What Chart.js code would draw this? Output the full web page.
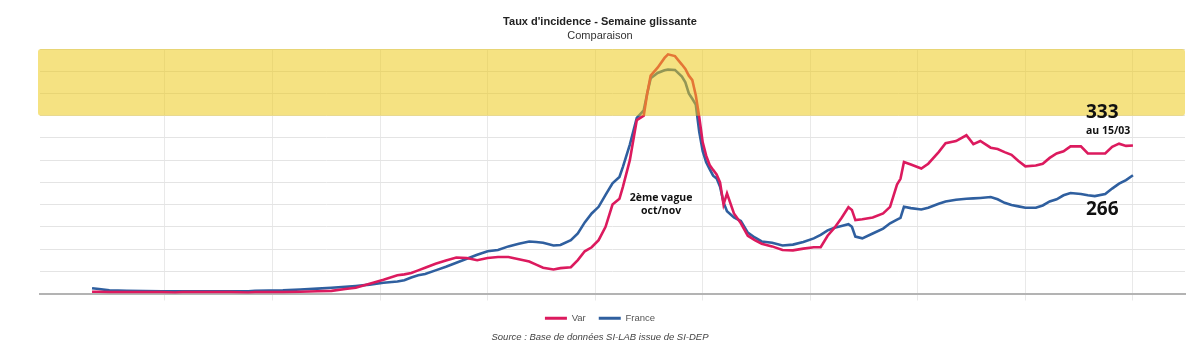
<!DOCTYPE html>
<html lang="fr">
<head>
<meta charset="utf-8">
<title>Taux d'incidence - Semaine glissante</title>
<script src="https://cdn.jsdelivr.net/npm/chart.js@4/dist/chart.umd.min.js"></script>
<style>
  html, body { margin: 0; padding: 0; background: #ffffff; }
  #zone { width: 1200px; height: 343px; }
</style>
</head>
<body>
<div id="zone"><canvas id="graphique" width="1200" height="343"></canvas></div>
<script>
// Jours écoulés depuis le premier point de la série (le dernier point est le 15/03)
const jours = [
  0, 2, 5, 10, 20, 24, 26, 40, 45, 47,
  55, 60, 65, 69, 73, 76, 80, 84, 88, 90,
  92, 94, 96, 99, 102, 105, 108, 111, 114, 117,
  120, 123, 126, 128, 130, 133, 135, 138, 140, 142,
  144, 146, 148, 150, 152, 153, 155, 157, 159, 160,
  161, 163, 165, 166, 168, 170, 171, 172, 173, 174,
  175, 176, 177, 178, 179, 180, 181, 182, 183, 185,
  187, 189, 191, 193, 196, 199, 202, 205, 208, 210,
  212, 214, 216, 218, 219, 220, 222, 225, 228, 230,
  232, 233, 234, 236, 239, 241, 244, 246, 249, 252,
  254, 256, 259, 261, 263, 265, 267, 269, 272, 274,
  276, 278, 280, 282, 285, 287, 289, 292, 294, 296,
  298, 300
];

// Taux d'incidence sur 7 jours glissants (pour 100 000 habitants)
const tauxVar = [
  4, 4, 3, 3, 3, 2, 3, 3, 2, 3,
  3, 4, 5, 6, 10, 13, 22, 31, 41, 43,
  46, 52, 58, 67, 74, 81, 80, 75, 80, 82,
  82, 77, 72, 65, 58, 54, 57, 59, 75, 95,
  104, 120, 150, 200, 213, 240, 300, 390, 400, 450,
  490, 508, 530, 538, 534, 515, 505, 490, 480, 446,
  397, 340, 310, 289, 278, 268, 250, 200, 225, 180,
  158, 130, 120, 112, 106, 98, 97, 101, 104, 104,
  130, 148, 170, 194, 188, 165, 167, 171, 180, 195,
  245, 258, 296, 290, 281, 292, 318, 338, 343, 356,
  336, 343, 328, 325, 318, 312, 298, 286, 288, 292,
  305, 315, 320, 331, 331, 315, 315, 315, 330, 337,
  332, 333
];

const tauxFrance = [
  12, 10, 7, 6, 5, 5, 5, 5, 5, 6,
  7, 9, 11, 13, 15, 17, 20, 24, 27, 30,
  36, 41, 44, 52, 60, 69, 78, 87, 95, 98,
  106, 112, 117, 116, 114, 108, 109, 120, 135, 160,
  180, 195, 222, 248, 262, 285, 335, 395, 412, 450,
  484, 496, 502, 504, 503, 488, 475, 450, 438, 425,
  364, 320, 295, 280, 265, 259, 240, 205, 185, 171,
  163, 137, 126, 117, 114, 108, 110, 116, 124, 132,
  142, 148, 152, 156, 150, 128, 124, 135, 146, 158,
  166, 170, 195, 192, 189, 193, 202, 207, 211, 213,
  214, 215, 217, 212, 204, 199, 196, 193, 193, 198,
  207, 212, 221, 226, 224, 221, 219, 224, 236, 247,
  255, 266
];

// Repères verticaux (un par mois, en remontant depuis le dernier jour)
const reperesJours = [21, 52, 83, 114, 145, 176, 207, 238, 269, 300];
const dateDernierPoint = "15/03";
// Zone d'incidence très élevée, surlignée en jaune
const zoneAlerte = [400, 550];

const COULEUR_VAR = "#dc1a5e";
const COULEUR_FRANCE = "#2f5f9f";
const POLICE = '"Liberation Sans", Arial, sans-serif';
const POLICE_NOTES = '"Open Sans", "DejaVu Sans", sans-serif';

function points(valeurs) {
  return jours.map((j, i) => ({ x: j, y: valeurs[i] }));
}

// Bandeau jaune translucide posé par-dessus les courbes
const bandeau = {
  id: "bandeau",
  afterDatasetsDraw(chart) {
    const { ctx, chartArea, scales } = chart;
    const haut = scales.y.getPixelForValue(zoneAlerte[1]);
    const bas = scales.y.getPixelForValue(zoneAlerte[0]);
    ctx.save();
    ctx.fillStyle = "rgba(236, 200, 19, 0.53)";
    ctx.beginPath();
    ctx.roundRect(chartArea.left - 2, haut, chartArea.right - chartArea.left + 2, bas - haut, 3);
    ctx.fill();
    ctx.restore();
  }
};

// Annotations : dernières valeurs, légende de la vague et source
const annotations = {
  id: "annotations",
  afterDraw(chart) {
    const { ctx, scales } = chart;
    const n = jours.length - 1;
    const xFin = scales.x.getPixelForValue(jours[n]);
    const yVar = scales.y.getPixelForValue(tauxVar[n]);
    const yFrance = scales.y.getPixelForValue(tauxFrance[n]);
    ctx.save();
    ctx.fillStyle = "#111111";
    ctx.textBaseline = "middle";
    ctx.textAlign = "left";
    ctx.font = "bold 19px " + POLICE_NOTES;
    ctx.fillText(String(tauxVar[n]), xFin - 47, yVar - 33);
    ctx.font = "bold 10.5px " + POLICE_NOTES;
    ctx.fillText("au " + dateDernierPoint, xFin - 47, yVar - 14);
    ctx.font = "bold 19px " + POLICE_NOTES;
    ctx.fillText(String(tauxFrance[n]), xFin - 47, yFrance + 34);

    const xVague = scales.x.getPixelForValue(164);
    const yVague = scales.y.getPixelForValue(214);
    ctx.textAlign = "center";
    ctx.font = "bold 10.5px " + POLICE_NOTES;
    ctx.fillText("2ème vague", xVague, yVague);
    ctx.fillText("oct/nov", xVague, yVague + 13);

    ctx.fillStyle = "#444444";
    ctx.font = "italic 9.5px " + POLICE;
    ctx.fillText("Source : Base de données SI-LAB issue de SI-DEP", chart.width / 2, 337);
    ctx.restore();
  }
};

new Chart(document.getElementById("graphique"), {
  type: "line",
  data: {
    datasets: [
      {
        label: "Var",
        data: points(tauxVar),
        borderColor: COULEUR_VAR,
        backgroundColor: COULEUR_VAR,
        borderWidth: 2.6,
        pointRadius: 0,
        tension: 0
      },
      {
        label: "France",
        data: points(tauxFrance),
        borderColor: COULEUR_FRANCE,
        backgroundColor: COULEUR_FRANCE,
        borderWidth: 2.6,
        pointRadius: 0,
        tension: 0
      }
    ]
  },
  options: {
    responsive: false,
    animation: false,
    devicePixelRatio: 1,
    layout: { padding: { left: 0, right: 0, top: 0, bottom: 10 } },
    plugins: {
      title: {
        display: true,
        text: "Taux d'incidence - Semaine glissante",
        color: "#222222",
        font: { family: POLICE, size: 11, weight: "bold" },
        padding: { top: 15, bottom: 0 }
      },
      subtitle: {
        display: true,
        text: "Comparaison",
        color: "#333333",
        font: { family: POLICE, size: 11, weight: "normal" },
        padding: { top: 1, bottom: 6.6 }
      },
      legend: {
        position: "bottom",
        labels: {
          boxWidth: 22,
          boxHeight: 3,
          padding: 13,
          color: "#555555",
          font: { family: POLICE, size: 9.5 },
          generateLabels(chart) {
            return Chart.defaults.plugins.legend.labels.generateLabels(chart)
              .map(l => Object.assign(l, { lineWidth: 0, fillStyle: l.strokeStyle }));
          }
        }
      },
      tooltip: { enabled: false }
    },
    scales: {
      x: {
        type: "linear",
        min: -15,
        max: 315,
        afterBuildTicks(scale) {
          scale.ticks = reperesJours.map(v => ({ value: v }));
        },
        ticks: { display: false },
        grid: { color: "#e9e9e9", lineWidth: 1, drawTicks: true, tickLength: 7, tickColor: "#e9e9e9" },
        border: { display: true, color: "#b3b3b3", width: 2 }
      },
      y: {
        min: 0,
        max: 550,
        ticks: { display: false, stepSize: 50 },
        grid: { color: "#e4e4e4", lineWidth: 1, drawTicks: false },
        border: { display: false },
        afterFit(scale) { scale.width = 40; }
      },
      marge: {
        type: "linear",
        position: "right",
        min: 0,
        max: 550,
        ticks: { display: false },
        grid: { display: false, drawTicks: false },
        border: { display: false },
        afterFit(scale) { scale.width = 15; }
      }
    }
  },
  plugins: [bandeau, annotations]
});
</script>
</body>
</html>
